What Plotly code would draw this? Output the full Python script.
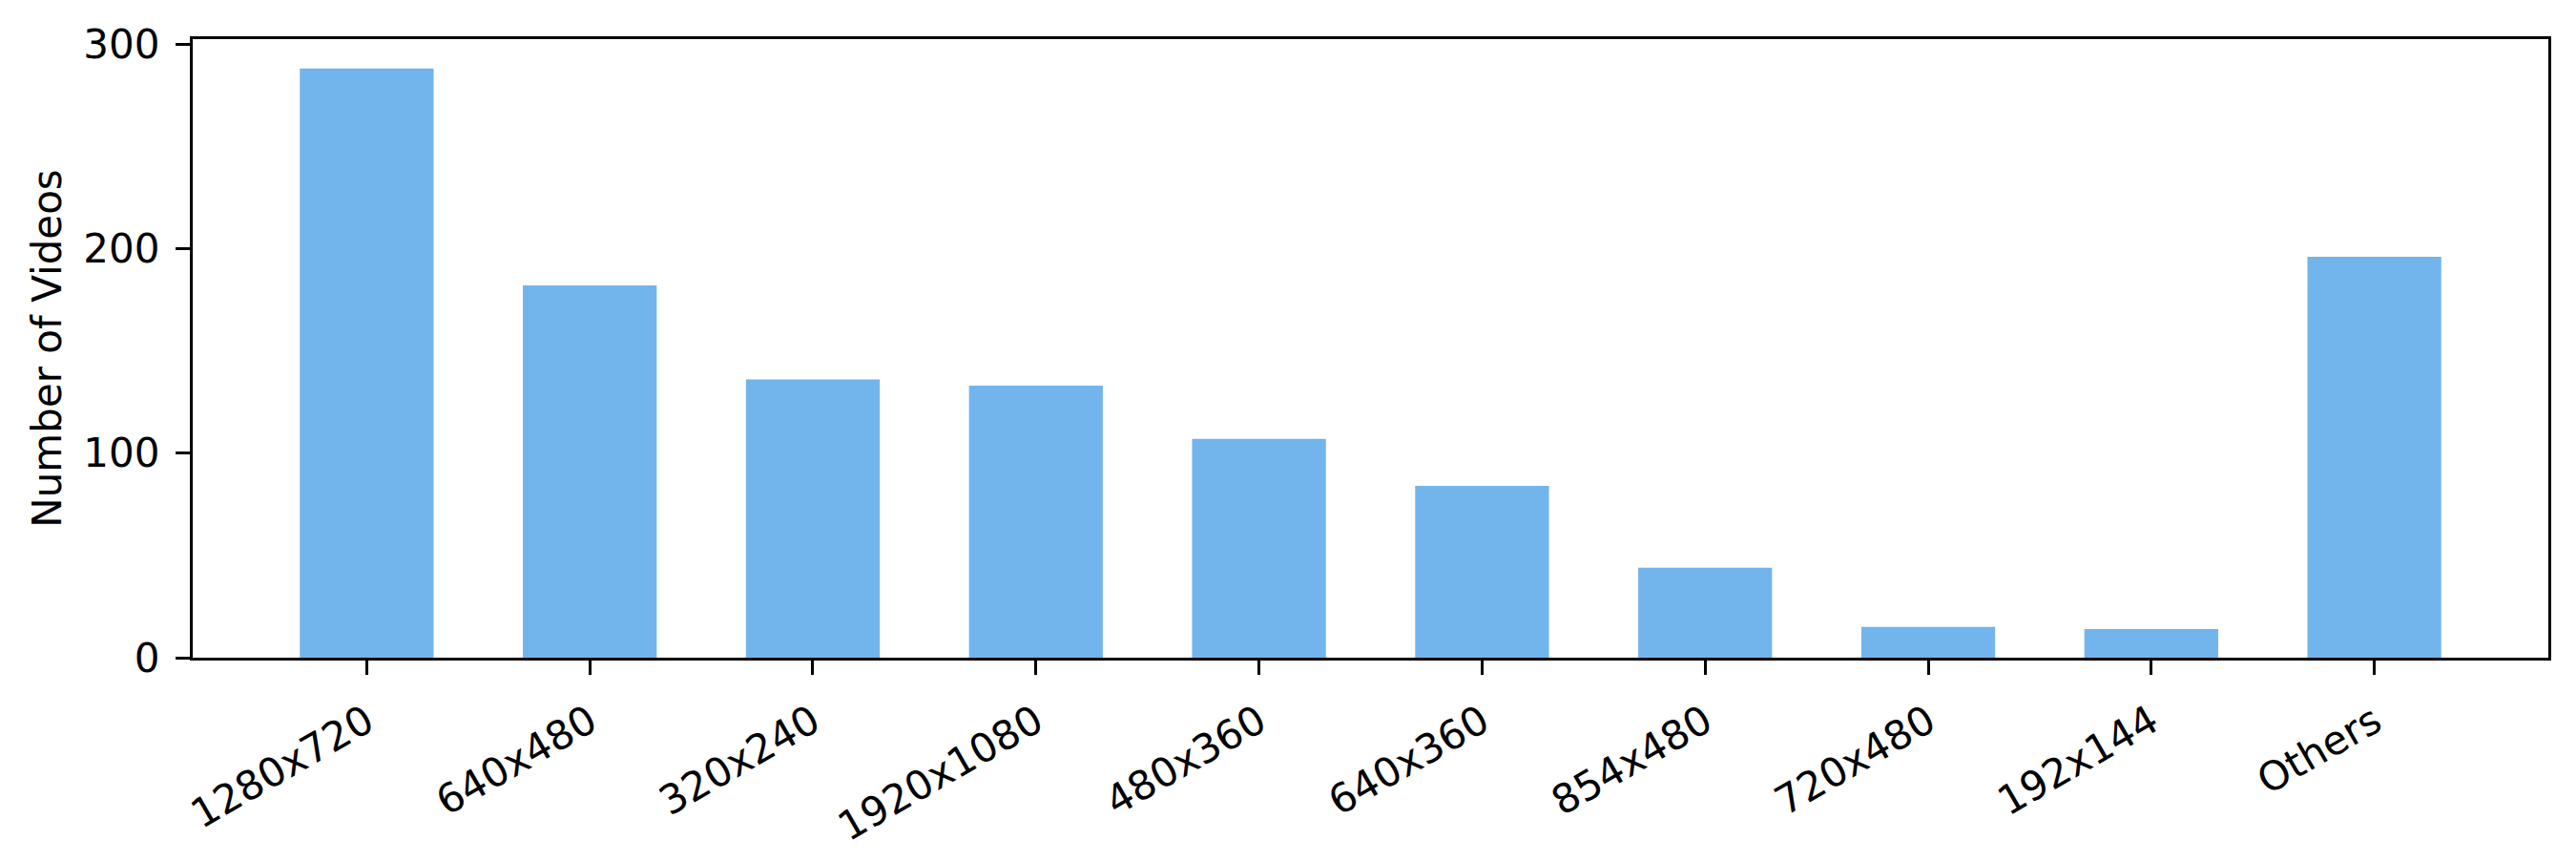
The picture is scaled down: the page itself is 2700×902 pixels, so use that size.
import plotly.graph_objects as go

# 分辨率分布
resolutions = ["1280x720", "640x480", "320x240", "1920x1080", "480x360",
               "640x360", "854x480", "720x480", "192x144", "Others"]
video_counts = [288, 182, 136, 133, 107, 84, 44, 15, 14, 196]

BAR_COLOR = "#72b5ec"
FONT = "DejaVu Sans"

fig = go.Figure(go.Bar(
    x=list(range(len(resolutions))), y=video_counts,
    marker=dict(color=BAR_COLOR, line=dict(width=0)),
    width=0.6,
))

axis_common = dict(
    showline=True, linecolor="black", linewidth=3.3, mirror=True,
    ticks="outside", ticklen=15, tickwidth=3.3, tickcolor="black",
    showgrid=False, zeroline=False,
    tickfont=dict(family=FONT, size=42, color="black"),
)

fig.update_xaxes(
    **axis_common,
    range=[-0.78, 9.78],
    tickmode="array", tickvals=list(range(len(resolutions))), ticktext=resolutions,
    tickangle=-30, ticklabelstandoff=8,
)
fig.update_yaxes(
    **axis_common,
    range=[0, 302.4], tickvals=[0, 100, 200, 300],
    ticklabelstandoff=8,
    title=dict(text="Number of Videos", font=dict(family=FONT, size=42, color="black"),
               standoff=10),
)
# 页面 body 默认有 8px 边距，这里把画布缩小相应尺寸
fig.update_layout(
    width=2692, height=894,
    margin=dict(l=194, r=29, t=33, b=213),
    plot_bgcolor="white", paper_bgcolor="white",
    showlegend=False,
    font=dict(family=FONT, color="black"),
)
fig.write_html("out.html")
